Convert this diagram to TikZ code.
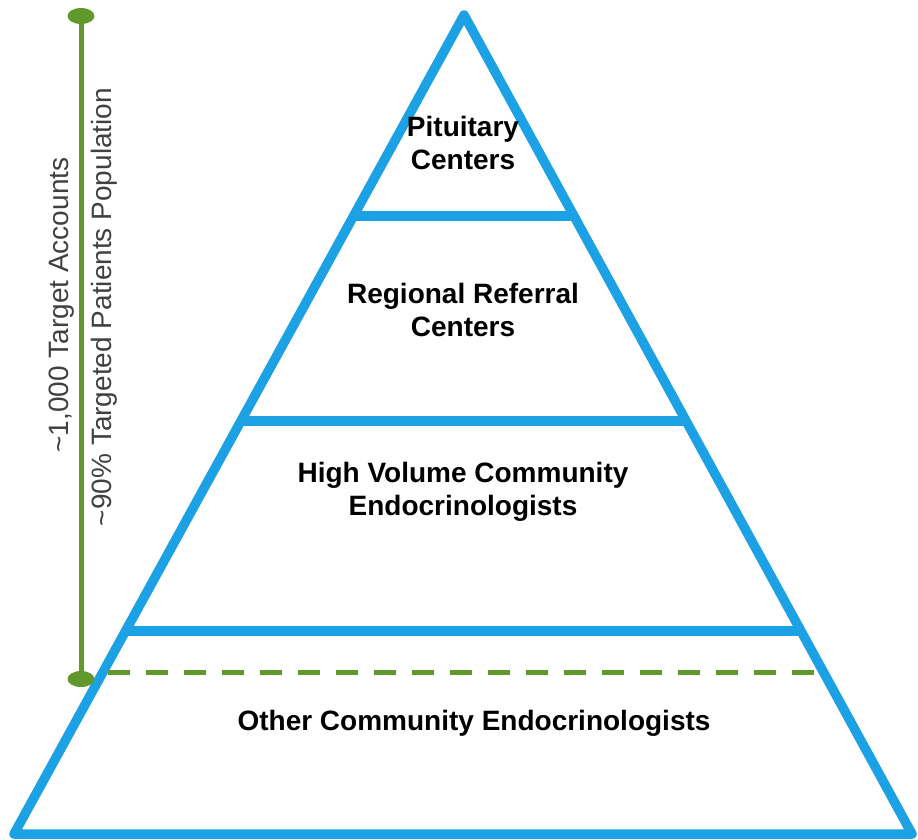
\documentclass[tikz,border=0pt]{standalone}
\usepackage{fontspec}
\setmainfont{Liberation Sans}
\usetikzlibrary{calc,shapes.geometric}
\definecolor{pyrblue}{RGB}{27,161,228}
\definecolor{bargreen}{RGB}{96,152,44}
\definecolor{notegray}{RGB}{64,64,64}
\tikzset{
  edge/.style={draw=pyrblue,line width=9.5pt,line join=round,line cap=round},
  tier/.style={draw=pyrblue,line width=9.5pt},
  tierlabel/.style={align=center,font=\fontsize{28}{33}\selectfont\bfseries,text=black,inner sep=0pt},
  sidenote/.style={font=\fontsize{28}{32}\selectfont,text=notegray,rotate=90,inner sep=0pt},
  knob/.style={ellipse,fill=bargreen,minimum width=27pt,minimum height=16pt,inner sep=0pt},
  span/.style={draw=bargreen,line width=5pt},
  cutoff/.style={draw=bargreen,line width=5pt,dash pattern=on 22pt off 16pt}
}
\begin{document}
\begin{tikzpicture}[x=1pt,y=-1pt]
  \useasboundingbox (0,0) rectangle (918,839);
  % pyramid outline
  \coordinate (A) at (464,15);
  \coordinate (BL) at (14,834);
  \coordinate (BR) at (912,834);
  \draw[edge] (A) -- (BL) -- (BR) -- cycle;
  % tier dividers
  \draw[tier] ($(A)!0.2454!(BL)$) -- ($(A)!0.2454!(BR)$);
  \draw[tier] ($(A)!0.4957!(BL)$) -- ($(A)!0.4957!(BR)$);
  \draw[tier] ($(A)!0.7521!(BL)$) -- ($(A)!0.7521!(BR)$);
  % targeted cut-off
  \coordinate (cutL) at (108,672);
  \coordinate (cutR) at (815,672);
  \draw[cutoff] (cutL) -- (cutR);
  % tier labels
  \node[tierlabel] (t1) at (463,143) {Pituitary\\Centers};
  \node[tierlabel] (t2) at (463,310) {Regional Referral\\Centers};
  \node[tierlabel] (t3) at (463,492) {High Volume Community\\Endocrinologists};
  \node[tierlabel] (t4) at (474,723) {Other Community Endocrinologists};
  % range bar
  \node[knob] (top) at (81,16) {};
  \node[knob] (bot) at (81,679) {};
  \draw[span] (top.center) -- (bot.center);
  \node[sidenote] (n1) at (62,305) {\textasciitilde1,000 Target Accounts};
  \node[sidenote] (n2) at (104,307) {\textasciitilde90\% Targeted Patients Population};
\end{tikzpicture}
\end{document}
